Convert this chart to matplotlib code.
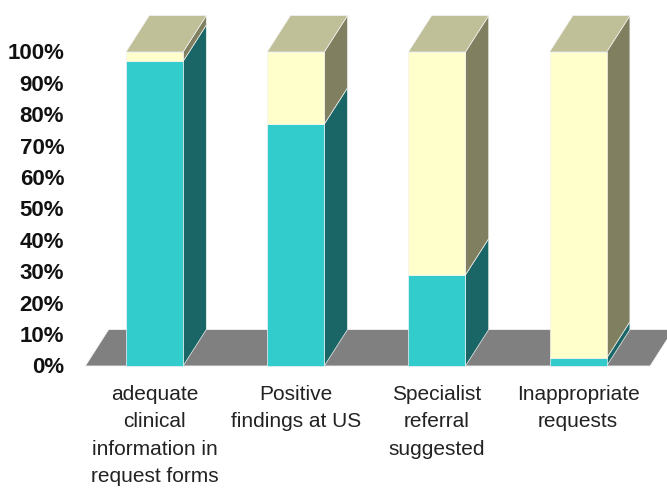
import matplotlib
matplotlib.use("Agg")
import matplotlib.pyplot as plt
from matplotlib.patches import Polygon

categories = ["adequate\nclinical\ninformation in\nrequest forms",
              "Positive\nfindings at US",
              "Specialist\nreferral\nsuggested",
              "Inappropriate\nrequests"]
yes_values = [97, 77, 29, 2.5]
no_values = [100 - v for v in yes_values]
ytick_values = [0, 10, 20, 30, 40, 50, 60, 70, 80, 90, 100]

# colours
front_cols = ["#33CCCC", "#FFFFCC"]
side_cols = ["#1A6666", "#808060"]
top_col = "#BFBF98"
floor_col = "#808080"
edge_col = "#F2F2F2"

W, H = 667, 488
fig = plt.figure(figsize=(W / 100, H / 100), dpi=100)
ax = fig.add_axes([0, 0, 1, 1])

# scale: pixels per category unit and per percent
ppx, ppy = 141.2, 3.14
x0px, y0px = 154.5, 366.0  # pixel position of category 0 / 0 %
ax.set_xlim(-x0px / ppx, (W - x0px) / ppx)
ax.set_ylim(-(H - y0px) / ppy, y0px / ppy)
ax.axis("off")

bw = 0.404          # bar width in category units
dx, dy = 0.165, 11.6  # depth offsets

n = len(categories)
# floor
fl, fr = -0.49, n - 0.49
ax.add_patch(Polygon([(fl, 0), (fr, 0), (fr + dx, dy), (fl + dx, dy)],
                     closed=True, facecolor=floor_col, edgecolor=edge_col,
                     linewidth=0.6, zorder=1))

for i in range(n):
    xl, xr = i - bw / 2, i + bw / 2
    segs = [yes_values[i], no_values[i]]
    base = 0
    for k, h in enumerate(segs):
        y0, y1 = base, base + h
        # side face
        ax.add_patch(Polygon([(xr, y0), (xr + dx, y0 + dy), (xr + dx, y1 + dy), (xr, y1)],
                             closed=True, facecolor=side_cols[k], edgecolor=edge_col,
                             linewidth=0.5, zorder=2))
        # front face
        ax.add_patch(Polygon([(xl, y0), (xr, y0), (xr, y1), (xl, y1)],
                             closed=True, facecolor=front_cols[k], edgecolor=edge_col,
                             linewidth=0.5, zorder=3))
        base = y1
    # top face
    ax.add_patch(Polygon([(xl, base), (xr, base), (xr + dx, base + dy), (xl + dx, base + dy)],
                         closed=True, facecolor=top_col, edgecolor=edge_col,
                         linewidth=0.5, zorder=3))

# y labels
for v in ytick_values:
    ax.text(-0.64, v - 0.6, f"{v}%", ha="right", va="center",
            fontsize=16, fontweight="bold", family="Liberation Sans", color="#111111")

# category labels
for i, lab in enumerate(categories):
    ax.text(i, -5.9, lab, ha="center", va="top", fontsize=15,
            family="Liberation Sans", color="#222222", linespacing=1.57)

fig.savefig("out.png", dpi=100, facecolor="white")
